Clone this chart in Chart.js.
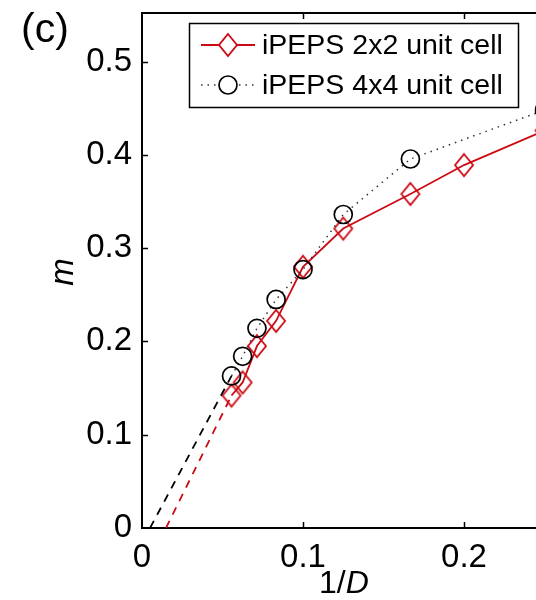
<!DOCTYPE html>
<html>
<head>
<meta charset="utf-8">
<script src="https://cdn.jsdelivr.net/npm/chart.js@4/dist/chart.umd.min.js"></script>
<style>
  html, body { margin: 0; padding: 0; background: #fff; }
  #wrap { width: 536px; height: 600px; position: relative; }
</style>
</head>
<body>
<div id="wrap"><canvas id="chart"></canvas></div>
<script>
// 1/D values and magnetisation m
const invD2x2 = [0.0556, 0.0625, 0.0714, 0.0833, 0.1, 0.125, 0.1667, 0.2, 0.25];
const m2x2 = [0.142, 0.156, 0.195, 0.222, 0.280, 0.321, 0.358, 0.389, 0.426];

const invD4x4 = [0.0556, 0.0625, 0.0714, 0.0833, 0.1, 0.125, 0.1667, 0.25];
const m4x4 = [0.163, 0.184, 0.214, 0.245, 0.277, 0.336, 0.3955, 0.448];

// extrapolations to D -> infinity (dashed)
const extrapX2x2 = [0.0149, 0.0556];
const extrapM2x2 = [0, 0.142];
const extrapX4x4 = [0.005, 0.0556];
const extrapM4x4 = [0, 0.163];

const legendLabels = ['iPEPS 2x2 unit cell', 'iPEPS 4x4 unit cell'];
const xTicks = [0, 0.1, 0.2];
const yTicks = [0, 0.1, 0.2, 0.3, 0.4, 0.5];

const RED = '#cc0a14';
const FONT = "'Liberation Sans', Arial, sans-serif";

const pts = (xs, ys) => xs.map((x, i) => ({ x: x, y: ys[i] }));

// MATLAB-like diamond (a bit taller than wide)
function diamondMarker(w, h, color) {
  const c = document.createElement('canvas');
  c.width = w + 4; c.height = h + 4;
  const g = c.getContext('2d');
  g.strokeStyle = color;
  g.lineWidth = 1.8;
  g.beginPath();
  g.moveTo(c.width / 2, 2);
  g.lineTo(c.width - 2, c.height / 2);
  g.lineTo(c.width / 2, c.height - 2);
  g.lineTo(2, c.height / 2);
  g.closePath();
  g.stroke();
  return c;
}
const diamond = diamondMarker(18, 22, RED);

// inward ticks, top border, panel label, axis titles, legend
const decor = {
  id: 'decor',
  afterDatasetsDraw(chart) {
    const ctx = chart.ctx;
    const a = chart.chartArea;
    const xs = chart.scales.x, ys = chart.scales.y;
    ctx.save();
    ctx.strokeStyle = '#000';
    ctx.lineWidth = 2;
    ctx.beginPath();
    ctx.moveTo(a.left, a.top);
    ctx.lineTo(a.right + 2, a.top);
    ctx.stroke();
    ctx.beginPath();
    xTicks.forEach(v => {
      if (v === 0) return;
      const px = Math.round(xs.getPixelForValue(v)) + 0.5;
      ctx.moveTo(px, a.bottom); ctx.lineTo(px, a.bottom - 6);
      ctx.moveTo(px, a.top); ctx.lineTo(px, a.top + 6);
    });
    yTicks.forEach(v => {
      if (v === 0) return;
      const py = Math.round(ys.getPixelForValue(v)) + 0.5;
      ctx.moveTo(a.left, py); ctx.lineTo(a.left + 6, py);
    });
    ctx.lineWidth = 1.5;
    ctx.stroke();

    ctx.fillStyle = '#000';
    ctx.textBaseline = 'alphabetic';
    ctx.textAlign = 'left';

    // panel label
    ctx.font = '41px ' + FONT;
    ctx.fillText('(c)', 21, 42);

    // x axis title 1/D with italic D
    ctx.font = '32px ' + FONT;
    const w1 = ctx.measureText('1/').width;
    ctx.fillText('1/', 319, 593);
    ctx.font = 'italic 32px ' + FONT;
    ctx.fillText('D', 319 + w1, 593);

    // y axis title m
    ctx.save();
    ctx.translate(73, 272);
    ctx.rotate(-Math.PI / 2);
    ctx.textAlign = 'center';
    ctx.font = 'italic 33px ' + FONT;
    ctx.fillText('m', 0, 0);
    ctx.restore();

    // legend
    const bx = 189, by = 23, bw = 329, bh = 84;
    ctx.fillStyle = '#fff';
    ctx.fillRect(bx, by, bw, bh);
    ctx.lineWidth = 1.5;
    ctx.strokeStyle = '#000';
    ctx.strokeRect(bx + 0.5, by + 0.5, bw, bh);

    const rows = [45, 85];
    // row 1: red solid line + diamond
    ctx.strokeStyle = RED;
    ctx.lineWidth = 1.8;
    ctx.beginPath();
    ctx.moveTo(201, rows[0]); ctx.lineTo(219, rows[0]);
    ctx.moveTo(237, rows[0]); ctx.lineTo(255, rows[0]);
    ctx.stroke();
    ctx.drawImage(diamond, 228 - diamond.width / 2, rows[0] - diamond.height / 2);
    // row 2: dotted black line + circle
    ctx.strokeStyle = '#333';
    ctx.lineWidth = 1.5;
    ctx.setLineDash([1.5, 5]);
    ctx.beginPath();
    ctx.moveTo(201, rows[1]); ctx.lineTo(218, rows[1]);
    ctx.moveTo(239, rows[1]); ctx.lineTo(256, rows[1]);
    ctx.stroke();
    ctx.setLineDash([]);
    ctx.strokeStyle = '#000';
    ctx.lineWidth = 1.7;
    ctx.beginPath();
    ctx.arc(228, rows[1], 9, 0, Math.PI * 2);
    ctx.stroke();

    ctx.fillStyle = '#000';
    ctx.font = '28.5px ' + FONT;
    ctx.textBaseline = 'middle';
    ctx.fillText(legendLabels[0], 262, rows[0] + 1);
    ctx.fillText(legendLabels[1], 262, rows[1] + 1);
    ctx.restore();
  }
};

new Chart(document.getElementById('chart'), {
  type: 'scatter',
  data: {
    datasets: [
      {
        label: 'extrap 4x4',
        data: pts(extrapX4x4, extrapM4x4),
        showLine: true,
        borderColor: '#000',
        borderWidth: 1.8,
        borderDash: [8, 7],
        pointRadius: 0
      },
      {
        label: 'extrap 2x2',
        data: pts(extrapX2x2, extrapM2x2),
        showLine: true,
        borderColor: RED,
        borderWidth: 1.8,
        borderDash: [8, 7],
        pointRadius: 0
      },
      {
        label: legendLabels[1],
        data: pts(invD4x4, m4x4),
        showLine: true,
        borderColor: '#333',
        borderWidth: 1.5,
        borderDash: [1.5, 5],
        pointStyle: 'circle',
        pointRadius: 9,
        pointBorderColor: '#000',
        pointBorderWidth: 1.7,
        pointBackgroundColor: 'rgba(0,0,0,0)'
      },
      {
        label: legendLabels[0],
        data: pts(invD2x2, m2x2),
        showLine: true,
        borderColor: RED,
        borderWidth: 1.8,
        pointStyle: diamond,
        pointRadius: 11
      }
    ]
  },
  options: {
    responsive: true,
    maintainAspectRatio: false,
    animation: false,
    layout: { autoPadding: false, padding: { top: 13, right: 0, left: 0, bottom: 0 } },
    plugins: {
      legend: { display: false },
      tooltip: { enabled: false }
    },
    scales: {
      x: {
        type: 'linear',
        min: 0,
        max: 0.2447,
        afterFit: s => { s.height = 72; s.paddingLeft = 0; s.paddingRight = 0; },
        afterBuildTicks: s => { s.ticks = xTicks.map(v => ({ value: v })); },
        grid: { display: false },
        border: { display: true, color: '#000', width: 2 },
        ticks: {
          color: '#000',
          font: { family: FONT, size: 33 },
          padding: 2,
          maxRotation: 0,
          callback: v => String(v)
        }
      },
      y: {
        type: 'linear',
        min: 0,
        max: 0.552,
        afterFit: s => { s.width = 142; s.paddingTop = 0; s.paddingBottom = 0; },
        afterBuildTicks: s => { s.ticks = yTicks.map(v => ({ value: v })); },
        grid: { display: false },
        border: { display: true, color: '#000', width: 2 },
        ticks: {
          color: '#000',
          font: { family: FONT, size: 33 },
          padding: 2,
          callback: v => String(v)
        }
      }
    }
  },
  plugins: [decor]
});
</script>
</body>
</html>
